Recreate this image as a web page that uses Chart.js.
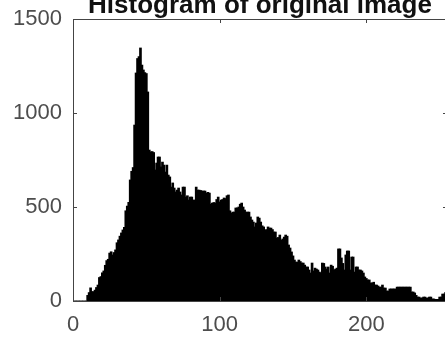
<!DOCTYPE html>
<html lang="en">
<head>
    <meta charset="UTF-8">
    <title>Histogram of original image</title>
    <script src="https://cdn.jsdelivr.net/npm/chart.js"></script>
    <style>
        html, body {
            margin: 0;
            padding: 0;
            background: #ffffff;
            overflow: hidden;
        }
        #wrap {
            width: 460px;
            height: 345px;
        }
    </style>
</head>
<body>
    <div id="wrap">
        <canvas id="histChart" width="460" height="345"></canvas>
    </div>

    <script>
        // Histogram data: gray level (0..255) and pixel count per bin
        const grayLevels = Array.from({ length: 256 }, (_, i) => i);
        const binCounts = [
            0, 0, 0, 0, 0, 0, 0, 0, 0, 0,
            30, 45, 70, 50, 50, 58, 72, 85, 125, 130,
            150, 160, 190, 215, 222, 255, 262, 245, 258, 272,
            310, 325, 345, 362, 378, 392, 480, 505, 525, 644,
            690, 710, 936, 1213, 1290, 1300, 1346, 1255, 1229, 1215,
            1210, 1112, 803, 793, 795, 790, 697, 734, 766, 766,
            713, 739, 723, 686, 723, 670, 660, 606, 628, 601,
            580, 590, 601, 580, 564, 606, 606, 553, 560, 537,
            553, 553, 537, 537, 606, 590, 590, 588, 585, 585,
            585, 574, 578, 574, 515, 521, 524, 521, 540, 553,
            527, 537, 540, 548, 545, 560, 564, 480, 468, 473,
            473, 495, 495, 500, 515, 521, 500, 484, 473, 473,
            473, 447, 431, 420, 394, 415, 447, 441, 420, 400,
            394, 378, 380, 394, 388, 388, 380, 367, 367, 335,
            338, 351, 324, 330, 340, 351, 345, 298, 282, 261,
            240, 218, 207, 207, 218, 210, 202, 202, 191, 181,
            181, 165, 149, 202, 160, 175, 170, 165, 154, 150,
            202, 200, 181, 170, 181, 149, 191, 185, 165, 170,
            175, 277, 277, 229, 200, 165, 245, 266, 266, 165,
            234, 234, 154, 181, 181, 165, 165, 160, 149, 128,
            120, 112, 112, 96, 96, 100, 85, 85, 80, 74,
            74, 85, 69, 69, 53, 53, 64, 64, 64, 64,
            64, 74, 74, 74, 74, 74, 74, 74, 74, 74,
            74, 48, 48, 43, 30, 21, 21, 16, 16, 21,
            21, 16, 16, 21, 21, 11, 11, 9, 9, 9,
            21, 21, 37, 37, 45, 50
        ];
        const xTickValues = [0, 100, 200];
        const yTickValues = [0, 500, 1000, 1500];
        const chartTitle = 'Histogram of original image';

        const fontFamily = '"Liberation Sans", Arial, Helvetica, sans-serif';
        const axisColor = '#444444';
        const labelColor = '#4d4d4d';
        const tickLen = 4;

        // MATLAB-like box with inward tick marks on all four sides, plus the title
        const boxPlugin = {
            id: 'box',
            afterDatasetsDraw(chart) {
                const { ctx, chartArea: a, scales: { x, y } } = chart;
                ctx.save();
                ctx.strokeStyle = axisColor;
                ctx.lineWidth = 1;
                ctx.strokeRect(a.left + 0.5, a.top + 0.5, a.right - a.left, a.bottom - a.top);
                ctx.beginPath();
                x.ticks.forEach(t => {
                    const px = Math.round(x.getPixelForValue(t.value)) + 0.5;
                    ctx.moveTo(px, a.bottom);
                    ctx.lineTo(px, a.bottom - tickLen);
                    ctx.moveTo(px, a.top);
                    ctx.lineTo(px, a.top + tickLen);
                });
                y.ticks.forEach(t => {
                    const py = Math.round(y.getPixelForValue(t.value)) + 0.5;
                    ctx.moveTo(a.left, py);
                    ctx.lineTo(a.left + tickLen, py);
                    ctx.moveTo(a.right, py);
                    ctx.lineTo(a.right - tickLen, py);
                });
                ctx.stroke();

                // title sits above the axes, partly cut by the top edge
                ctx.fillStyle = '#111111';
                ctx.font = 'bold 26px ' + fontFamily;
                ctx.textAlign = 'center';
                ctx.textBaseline = 'alphabetic';
                ctx.fillText(chartTitle, (a.left + a.right) / 2, 13);
                ctx.restore();
            }
        };

        new Chart(document.getElementById('histChart'), {
            type: 'bar',
            data: {
                datasets: [{
                    data: grayLevels.map((g, i) => ({ x: g, y: binCounts[i] })),
                    backgroundColor: '#000000',
                    borderWidth: 0,
                    barThickness: 2
                }]
            },
            options: {
                responsive: false,
                animation: false,
                layout: {
                    padding: { top: 19, right: 13, bottom: 0, left: 0 }
                },
                plugins: {
                    legend: { display: false },
                    tooltip: { enabled: false },
                    title: { display: false }
                },
                scales: {
                    x: {
                        type: 'linear',
                        min: 0,
                        max: 255,
                        offset: false,
                        grid: { display: false, drawTicks: false },
                        border: { display: false },
                        afterBuildTicks: s => { s.ticks = xTickValues.map(v => ({ value: v })); },
                        afterFit: s => { s.height = 44; },
                        ticks: {
                            color: labelColor,
                            padding: 11,
                            maxRotation: 0,
                            font: { family: fontFamily, size: 22 },
                            callback: v => String(v)
                        }
                    },
                    y: {
                        min: 0,
                        max: 1500,
                        // tick marks are not drawn; tickLength only spaces the labels from the axis
                        grid: { display: false, drawTicks: true, tickLength: 11 },
                        border: { display: false },
                        afterBuildTicks: s => { s.ticks = yTickValues.map(v => ({ value: v })); },
                        afterFit: s => { s.width = 73; },
                        ticks: {
                            color: labelColor,
                            padding: 0,
                            font: { family: fontFamily, size: 22 },
                            callback: v => String(v)
                        }
                    }
                }
            },
            plugins: [boxPlugin]
        });
    </script>
</body>
</html>
